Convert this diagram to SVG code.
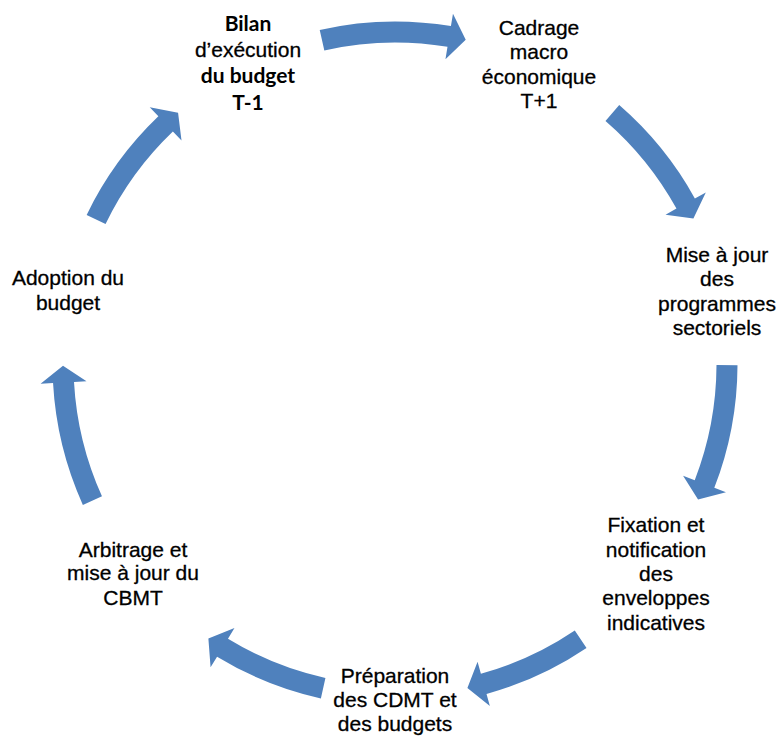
<svg xmlns="http://www.w3.org/2000/svg" width="781" height="736" viewBox="0 0 781 736">
<style>
.arr{fill:#4F81BD;stroke:none}
.t{font-family:"Liberation Sans",Arial,sans-serif;font-size:21px;fill:#000;stroke:#000;stroke-width:0.3;text-anchor:middle}
.b{font-family:Lato,"Liberation Sans",Arial,sans-serif;font-size:21px;font-weight:bold;fill:#000;text-anchor:middle}
</style>
<rect width="781" height="736" fill="#fff"/>
<g id="connectors">
<path class="arr" d="M319.72,29.89 A342.5,342.5 0 0 1 450.93,26.09 L452.97,13.76 L465.72,39.64 L445.46,59.14 L447.5,46.81 A321.5,321.5 0 0 0 324.33,50.38 Z"/>
<path class="arr" d="M619.23,105.1 A342.5,342.5 0 0 1 694.86,198.47 L705.8,192.43 L693.4,218.45 L665.53,214.66 L676.47,208.62 A321.5,321.5 0 0 0 605.49,120.98 Z"/>
<path class="arr" d="M737.5,365.2 A342.5,342.5 0 0 1 714.31,487.85 L725.97,492.37 L698.05,499.56 L683.08,475.73 L694.73,480.25 A321.5,321.5 0 0 0 716.5,365.12 Z"/>
<path class="arr" d="M586.53,647.93 A342.5,342.5 0 0 1 486.52,694.03 L489.86,706.08 L467.41,688 L477.56,661.75 L480.9,673.8 A321.5,321.5 0 0 0 574.78,630.52 Z"/>
<path class="arr" d="M320.88,698.38 A342.5,342.5 0 0 1 217.07,656.67 L210.58,667.35 L208.38,638.6 L234.47,628.04 L227.98,638.72 A321.5,321.5 0 0 0 325.43,677.88 Z"/>
<path class="arr" d="M82.85,504.94 A342.5,342.5 0 0 1 53.05,383.11 L40.57,383.81 L63,365.73 L86.49,381.24 L74.01,381.94 A321.5,321.5 0 0 0 101.98,496.3 Z"/>
<path class="arr" d="M86.65,214.94 A342.5,342.5 0 0 1 158.37,116.37 L149.73,107.33 L178.07,112.68 L181.51,140.59 L172.88,131.56 A321.5,321.5 0 0 0 105.55,224.08 Z"/>
</g>
<g id="node-bilan">
<text class="b" x="248" y="31">Bilan</text>
<text class="t" x="248" y="57">d’exécution</text>
<text class="b" x="248" y="83">du budget</text>
<text class="b" x="248" y="110">T-1</text>
</g>
<g id="node-cadrage">
<text class="t" x="539" y="35">Cadrage</text>
<text class="t" x="539" y="59">macro</text>
<text class="t" x="539" y="84">économique</text>
<text class="t" x="539" y="108">T+1</text>
</g>
<g id="node-mise">
<text class="t" x="717" y="262">Mise à jour</text>
<text class="t" x="717" y="286">des</text>
<text class="t" x="717" y="311">programmes</text>
<text class="t" x="717" y="335">sectoriels</text>
</g>
<g id="node-fixation">
<text class="t" x="656" y="532">Fixation et</text>
<text class="t" x="656" y="557">notification</text>
<text class="t" x="656" y="581">des</text>
<text class="t" x="656" y="605">enveloppes</text>
<text class="t" x="656" y="630">indicatives</text>
</g>
<g id="node-preparation">
<text class="t" x="395" y="683">Préparation</text>
<text class="t" x="395" y="707">des CDMT et</text>
<text class="t" x="395" y="731">des budgets</text>
</g>
<g id="node-arbitrage">
<text class="t" x="133" y="557">Arbitrage et</text>
<text class="t" x="133" y="580">mise à jour du</text>
<text class="t" x="133" y="605">CBMT</text>
</g>
<g id="node-adoption">
<text class="t" x="68" y="285">Adoption du</text>
<text class="t" x="68" y="310">budget</text>
</g>
</svg>
